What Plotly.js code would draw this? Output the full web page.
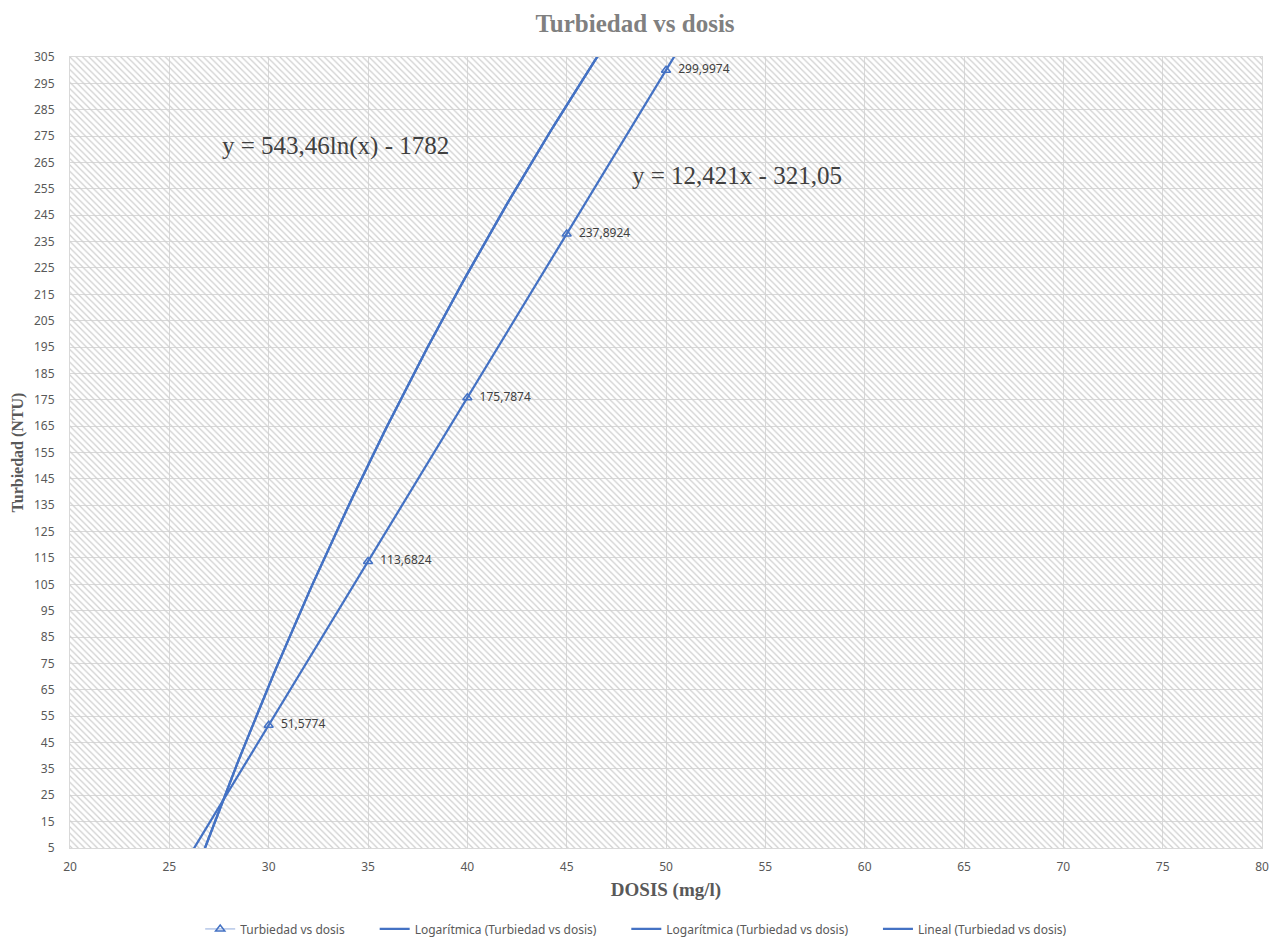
<!DOCTYPE html>
<html>
<head>
<meta charset="utf-8">
<script src="https://cdn.plot.ly/plotly-3.0.1.min.js"></script>
<style>html,body{margin:0;padding:0;background:#fff;}#chart{width:1270px;height:942px;}</style>
</head>
<body>
<div id="chart"></div>
<script>
// Data
const dosis = [30, 35, 40, 45, 50];
const turbiedad = [51.5774, 113.6824, 175.7874, 237.8924, 299.9974];
const xTicks = [20, 25, 30, 35, 40, 45, 50, 55, 60, 65, 70, 75, 80];
const yTicks = [5,15,25,35,45,55,65,75,85,95,105,115,125,135,145,155,165,175,185,195,205,215,225,235,245,255,265,275,285,295,305];
// Trendline coefficients as shown in the chart's equation labels
const logA = 543.46, logB = -1782;
const linA = 12.421, linB = -321.05;
const legendNames = ['Turbiedad vs dosis', 'Logarítmica (Turbiedad vs dosis)', 'Logarítmica (Turbiedad vs dosis)', 'Lineal (Turbiedad vs dosis)'];
const eqLog = 'y = 543,46ln(x) - 1782';
const eqLin = 'y = 12,421x - 321,05';

const blue = '#4472C4';
const trendX = [];
for (let x = 20; x <= 80.0001; x += 0.2) trendX.push(+x.toFixed(2));
const logY = trendX.map(x => logA * Math.log(x) + logB);
const linY = trendX.map(x => linA * x + linB);
const fmt = v => '\u00a0\u00a0' + String(v).replace('.', ',');
const pad = '\u00a0'.repeat(8);

const xMin = xTicks[0], xMax = xTicks[xTicks.length-1];
const yMin = yTicks[0], yMax = yTicks[yTicks.length-1];

const traces = [
  { // hatched plot-area background
    x: [xMin, xMax, xMax, xMin, xMin], y: [yMin, yMin, yMax, yMax, yMin],
    mode: 'none', fill: 'toself', fillcolor: 'rgba(0,0,0,0)',
    fillpattern: {shape: '\\', fgcolor: '#cfcfcf', bgcolor: 'rgba(0,0,0,0)', size: 4.5, solidity: 0.28},
    showlegend: false, hoverinfo: 'skip'
  },
  {
    x: dosis, y: turbiedad, name: legendNames[0] + pad,
    mode: 'lines+markers+text',
    line: {color: '#8faadc', width: 1},
    marker: {symbol: 'triangle-up-open', size: 8, color: blue, line: {width: 1.5, color: blue}},
    text: turbiedad.map(fmt), textposition: 'middle right',
    textfont: {family: 'Noto Sans, sans-serif', size: 12, color: '#404040'}
  },
  {x: trendX, y: logY, name: legendNames[1] + pad, mode: 'lines', line: {color: blue, width: 2.25}},
  {x: trendX, y: logY, name: legendNames[2] + pad, mode: 'lines', line: {color: blue, width: 2.25}},
  {x: trendX, y: linY, name: legendNames[3], mode: 'lines', line: {color: blue, width: 2.25}}
];

const layout = {
  width: 1270, height: 942,
  margin: {l: 70, r: 8, t: 57, b: 94, autoexpand: false},
  paper_bgcolor: '#fff', plot_bgcolor: '#fff',
  title: {text: '<b>Turbiedad vs dosis</b>', x: 0.5, xref: 'container', y: 0.975, yref: 'container', yanchor: 'middle',
    font: {family: 'Liberation Serif, serif', size: 25, color: '#808080'}},
  xaxis: {
    range: [xMin, xMax], tickvals: xTicks, ticktext: xTicks.map(String),
    showgrid: true, gridcolor: '#d9d9d9', gridwidth: 1, zeroline: false,
    showline: true, linecolor: '#d9d9d9', mirror: true, ticks: '',
    ticklabelstandoff: 8,
    tickfont: {family: 'Noto Sans, sans-serif', size: 12, color: '#595959'},
    title: {text: '<b>DOSIS (mg/l)</b>', standoff: 8, font: {family: 'Liberation Serif, serif', size: 19, color: '#595959'}}
  },
  yaxis: {
    range: [yMin, yMax], tickvals: yTicks, ticktext: yTicks.map(String),
    showgrid: true, gridcolor: '#d9d9d9', gridwidth: 1, zeroline: false,
    showline: true, linecolor: '#d9d9d9', mirror: true, ticks: '',
    ticklabelstandoff: 12,
    tickfont: {family: 'Noto Sans, sans-serif', size: 12, color: '#595959'},
    title: {text: '<b>Turbiedad (NTU)</b>', standoff: 6, font: {family: 'Liberation Serif, serif', size: 16, color: '#595959'}}
  },
  legend: {orientation: 'h', x: 0.475, xanchor: 'center', y: -0.084, yanchor: 'top',
    font: {family: 'Noto Sans, sans-serif', size: 12, color: '#595959'}, itemwidth: 30},
  annotations: [
    {x: 0.126, y: 0.887, xref: 'paper', yref: 'paper', xanchor: 'left', yanchor: 'middle', showarrow: false,
     text: eqLog, font: {family: 'Liberation Serif, serif', size: 25, color: '#404040'}},
    {x: 0.470, y: 0.850, xref: 'paper', yref: 'paper', xanchor: 'left', yanchor: 'middle', showarrow: false,
     text: eqLin, font: {family: 'Liberation Serif, serif', size: 25, color: '#404040'}}
  ],
  hovermode: false
};

Plotly.newPlot('chart', traces, layout, {displayModeBar: false, staticPlot: true});
</script>
</body>
</html>
